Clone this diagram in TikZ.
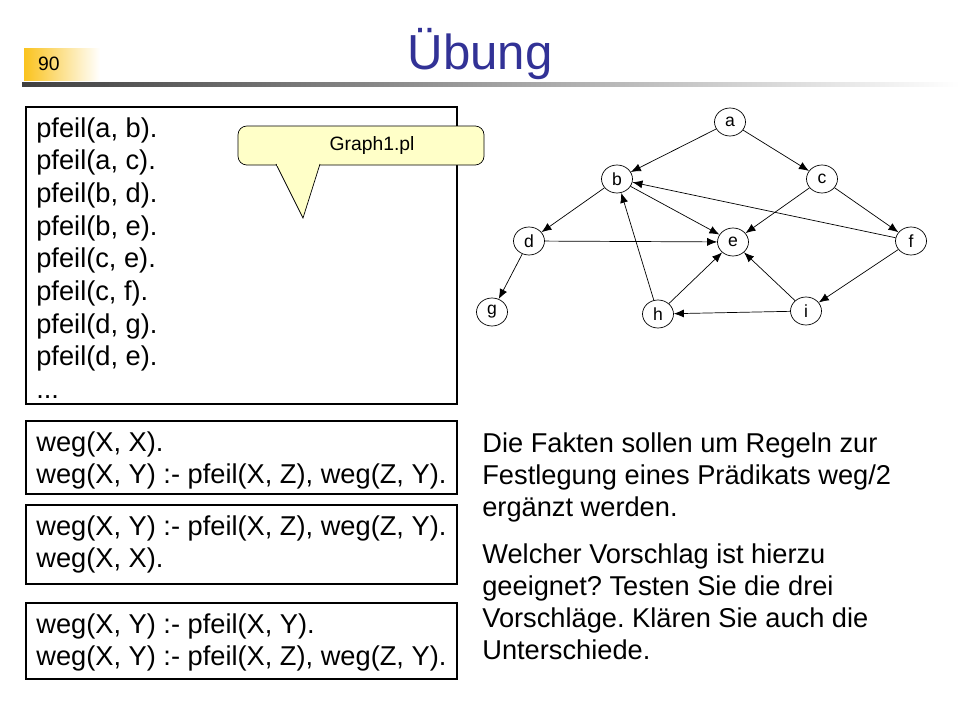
\documentclass[tikz,border=0pt]{standalone}
\usepackage{fontspec}
\setmainfont{Liberation Sans}
\usetikzlibrary{arrows.meta,shapes.geometric}
\definecolor{titleblue}{RGB}{50,50,150}
\definecolor{badge}{RGB}{250,195,30}
\definecolor{callout}{RGB}{255,255,200}
\frenchspacing
\tikzset{
	vertex/.style = {draw, ellipse, minimum width=0.62cm, minimum height=0.56cm, inner sep=0pt, font=\fontsize{10}{11}\selectfont},
	edge/.style = {-{Latex[length=2mm,width=1.6mm]}},
	codebox/.style = {draw, thick},
	codetext/.style = {anchor=north west, align=left, inner sep=0pt, font=\fontsize{15.5}{18.6}\selectfont}
}
\begin{document}
\begin{tikzpicture}[x=0.02cm,y=-0.02cm]
	\useasboundingbox (0,0) rectangle (960,720);
	% header
	\shade[left color=badge, right color=white] (24,48) rectangle (100,80);
	\node[anchor=west, font=\fontsize{11}{12}\selectfont] (num) at (32,64) {90};
	\shade[left color=black!75, right color=white] (22,82) rectangle (960,86);
	\node[text=titleblue, font=\fontsize{28}{32}\selectfont] (title) at (480,54) {Übung};
	% code boxes
	\draw[codebox] (26,107) rectangle (457,404);
	\node[codetext] (facts) at (36,117) {pfeil(a, b).\\pfeil(a, c).\\pfeil(b, d).\\pfeil(b, e).\\pfeil(c, e).\\pfeil(c, f).\\pfeil(d, g).\\pfeil(d, e).\\...};
	\draw[codebox] (26,421) rectangle (457,494);
	\node[codetext] (v1) at (36,431) {weg(X, X).\\weg(X, Y) :- pfeil(X, Z), weg(Z, Y).};
	\draw[codebox] (26,505) rectangle (457,584);
	\node[codetext] (v2) at (36,515) {weg(X, Y) :- pfeil(X, Z), weg(Z, Y).\\weg(X, X).};
	\draw[codebox] (26,603) rectangle (457,679);
	\node[codetext] (v3) at (36,613) {weg(X, Y) :- pfeil(X, Y).\\weg(X, Y) :- pfeil(X, Z), weg(Z, Y).};
	% callout
	\draw[fill=callout, rounded corners=5pt] (238,126) rectangle (484,165);
	\draw[fill=callout] (276,164) -- (303,218) -- (320,164);
	\draw[callout, line width=2pt] (277,164.5) -- (319,164.5);
	\node[font=\fontsize{11}{12}\selectfont] (file) at (372,146) {Graph1.pl};
	% task text
	\node[codetext, font=\fontsize{15.5}{18.2}\selectfont] (task1) at (482,432) {Die Fakten sollen um Regeln zur\\Festlegung eines Prädikats weg/2\\ergänzt werden.};
	\node[codetext, font=\fontsize{15.5}{18.2}\selectfont] (task2) at (482,543) {Welcher Vorschlag ist hierzu\\geeignet? Testen Sie die drei\\Vorschläge. Klären Sie auch die\\Unterschiede.};
	% graph
	\node[vertex] (a) at (730,122) {a};
	\node[vertex] (b) at (617,179) {b};
	\node[vertex] (c) at (822,179) {c};
	\node[vertex] (d) at (529,241) {d};
	\node[vertex] (e) at (733,242) {e};
	\node[vertex] (f) at (911,241) {f};
	\node[vertex] (g) at (492,312) {g};
	\node[vertex] (h) at (658,314) {h};
	\node[vertex] (i) at (806,311) {i};
	\foreach \s/\t in {a/b,a/c,b/d,b/e,c/e,c/f,d/e,d/g,f/b,f/i,h/b,h/e,i/e,i/h}
		\draw[edge] (\s) -- (\t);
\end{tikzpicture}
\end{document}
